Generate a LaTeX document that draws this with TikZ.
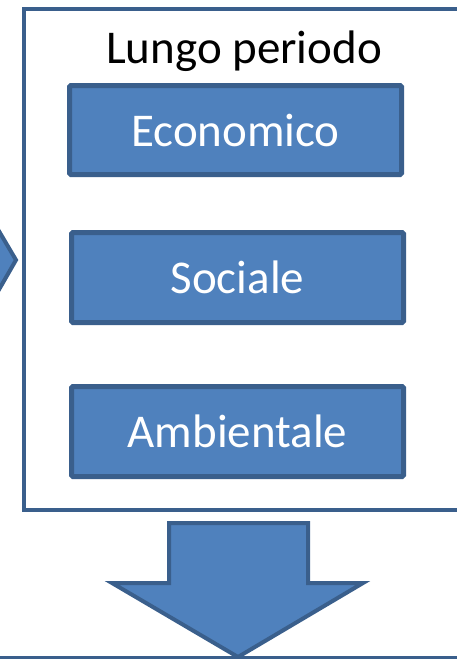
\documentclass[tikz,border=0pt]{standalone}
\usepackage{fontspec}
\setmainfont{Carlito}
\definecolor{boxfill}{HTML}{4F81BD}
\definecolor{boxline}{HTML}{3A5F8C}
\tikzset{
  px/.style={x=1pt,y=-1pt},
  panel/.style={draw=boxline,line width=4pt,fill=white},
  itembox/.style={draw=boxline,line width=5pt,fill=boxfill,rounded corners=1.5pt,
    text=white,font=\fontsize{47}{56}\selectfont,inner sep=0pt},
  arrowshape/.style={draw=boxline,line width=4pt,fill=boxfill,line join=miter},
  titletext/.style={font=\fontsize{47}{56}\selectfont,inner sep=0pt,anchor=base}
}
\begin{document}
\begin{tikzpicture}[px]
\useasboundingbox (0,0) rectangle (457,659);
\clip (0,0) rectangle (457,659);
% outer panel extending beyond the right edge
\draw[panel] (24,9) rectangle (480,510);
% box below, only its top edge visible
\draw[panel,line width=3pt] (-10,657.5) rectangle (480,720);
% partial arrow on the left
\draw[arrowshape] (-30,182) -- (16,260) -- (-30,340) -- cycle;
% title
\node[titletext] (title) at (244,63) {Lungo periodo};
% item boxes
\node[itembox,minimum width=332pt,minimum height=89pt] (eco) at (235.5,130) {Economico};
\node[itembox,minimum width=332pt,minimum height=90pt] (soc) at (237.5,277.5) {Sociale};
\node[itembox,minimum width=332pt,minimum height=90pt] (amb) at (237.5,431.5) {Ambientale};
% down arrow
\draw[arrowshape] (169,523) -- (308,523) -- (308,583) -- (363,583) -- (238,657)
  -- (112,583) -- (169,583) -- cycle;
\end{tikzpicture}
\end{document}
